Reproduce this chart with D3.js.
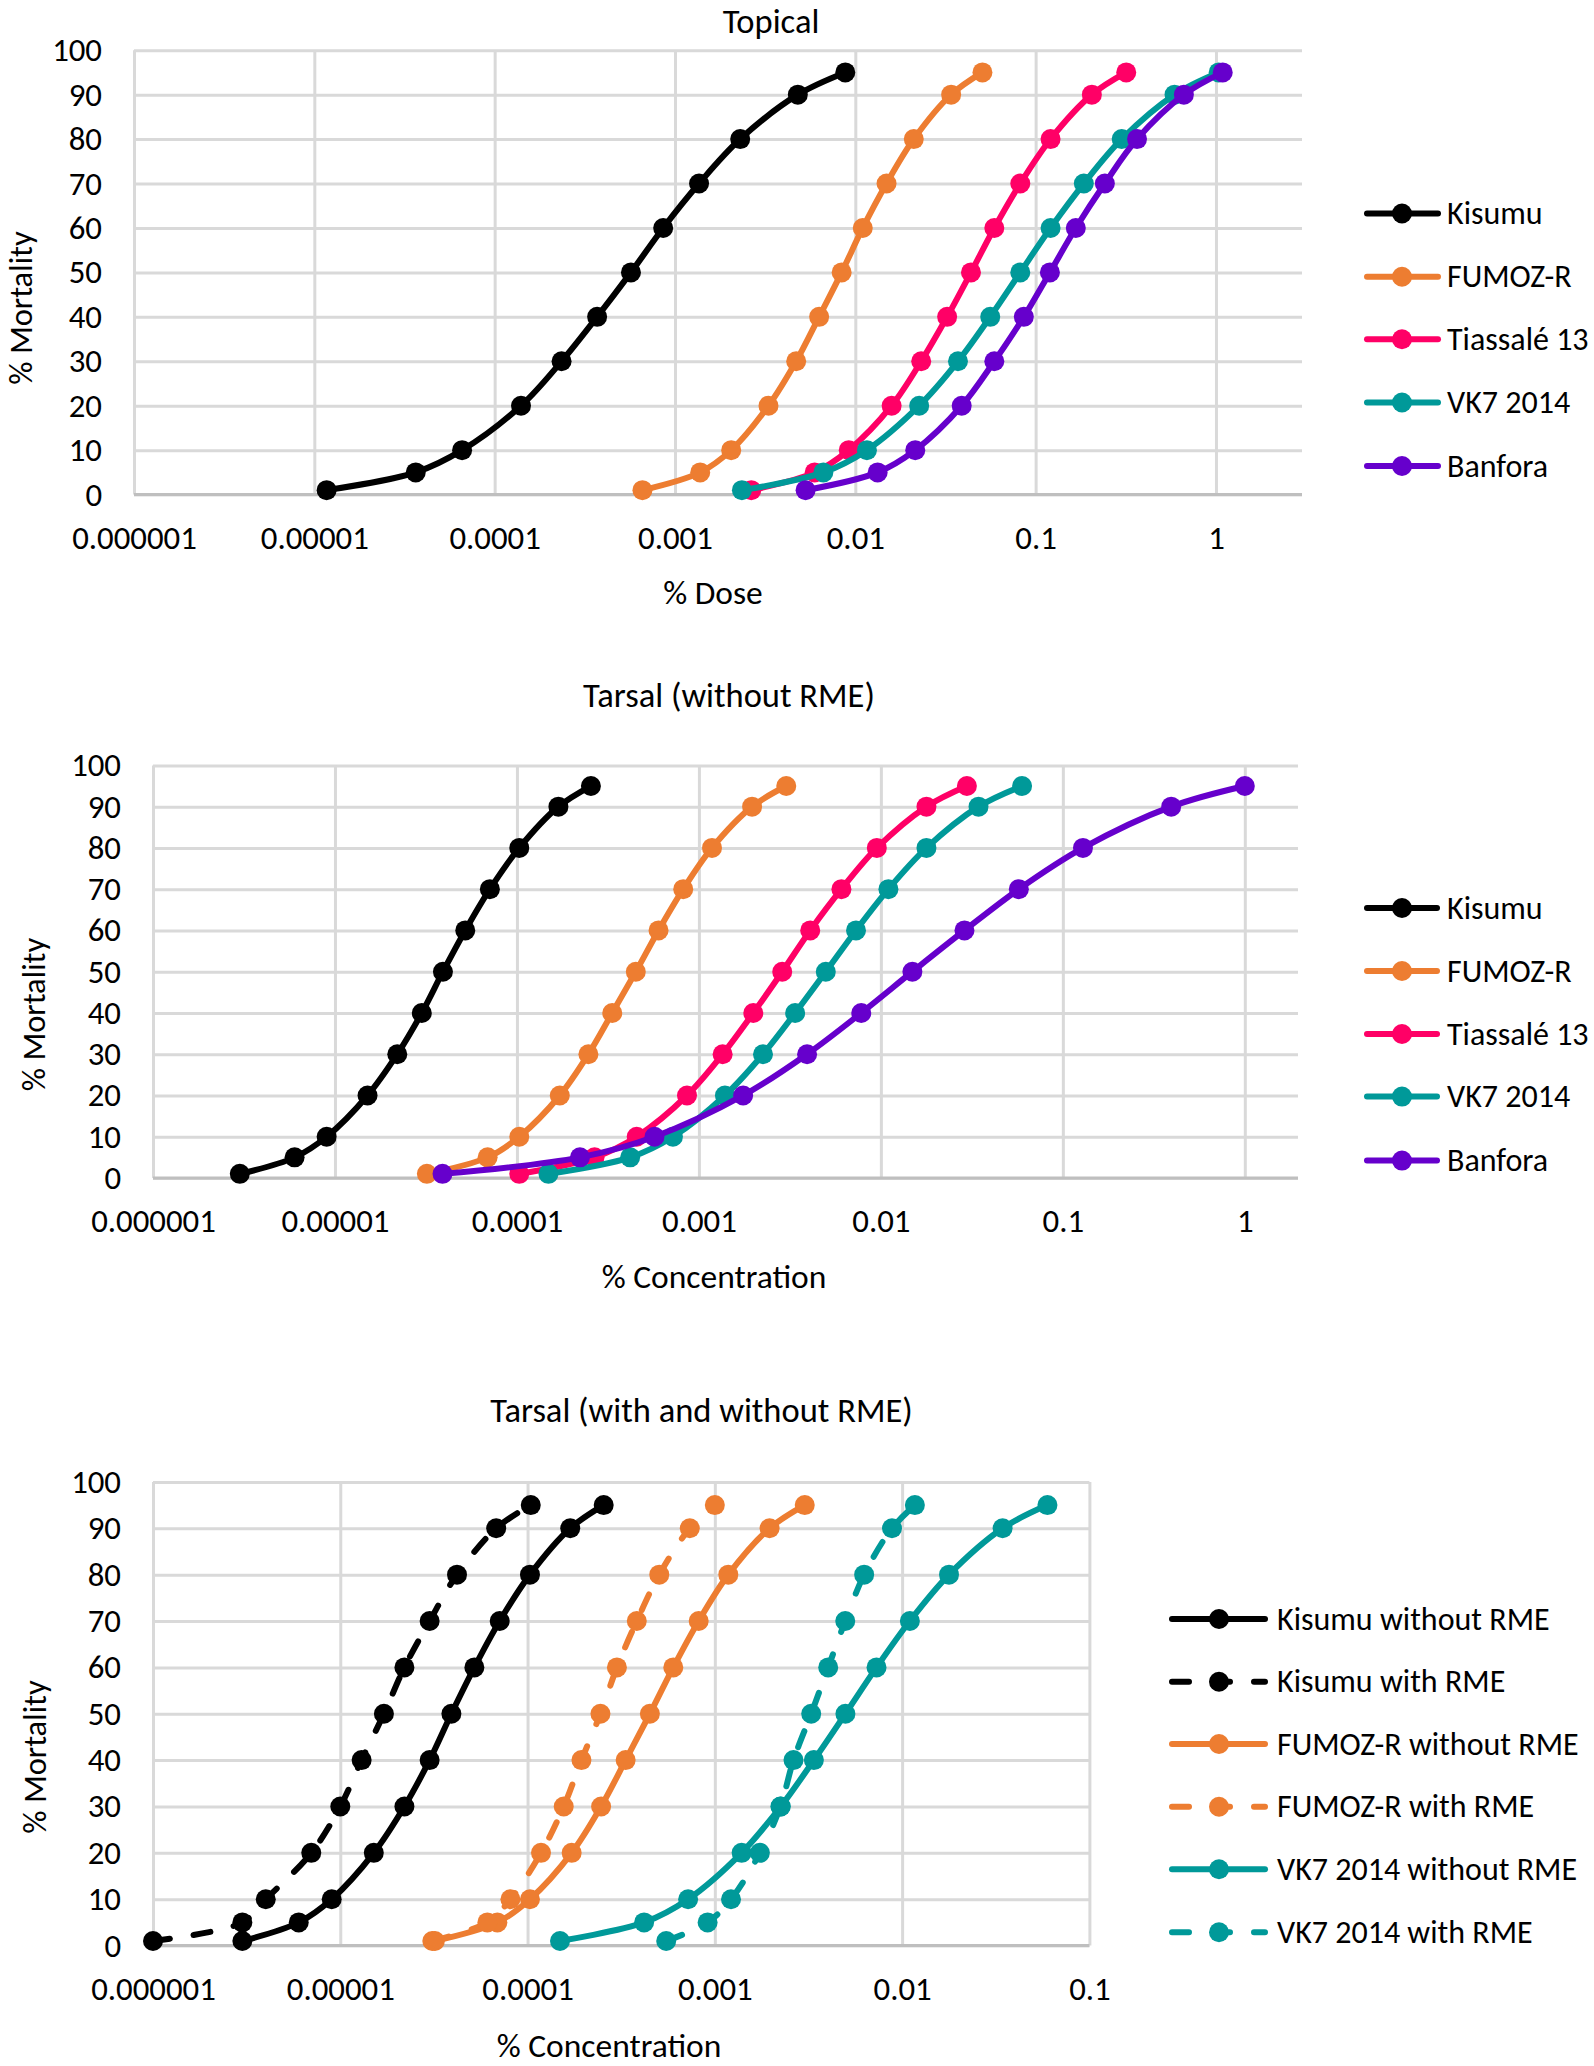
<!DOCTYPE html>
<html>
<head>
<meta charset="utf-8">
<script src="https://cdn.jsdelivr.net/npm/d3@7"></script>
<style>
  body { margin: 0; background: #ffffff; }
  svg { display: block; }
  text { font-family: Carlito, Calibri, Lato, sans-serif; fill: #000; }
</style>
</head>
<body>
<svg id="chart" width="1594" height="2066"></svg>
<script>
// ---------------- DATA ----------------
const mortality = [1, 5, 10, 20, 30, 40, 50, 60, 70, 80, 90, 95];
const yTickValues = [0, 10, 20, 30, 40, 50, 60, 70, 80, 90, 100];
const xTickValues = [0.000001, 0.00001, 0.0001, 0.001, 0.01, 0.1, 1];
const xTickLabels = ["0.000001", "0.00001", "0.0001", "0.001", "0.01", "0.1", "1"];

// Topical (% dose)
const kisumuTopical   = [1.17e-5, 3.65e-5, 6.6e-5, 1.4e-4, 2.35e-4, 3.7e-4, 5.7e-4, 8.6e-4, 1.36e-3, 2.3e-3, 4.8e-3, 8.8e-3];
const fumozTopical    = [6.6e-4, 1.38e-3, 2.05e-3, 3.3e-3, 4.7e-3, 6.3e-3, 8.4e-3, 0.011, 0.0149, 0.0211, 0.034, 0.0507];
const tiassaleTopical = [2.65e-3, 5.95e-3, 9.2e-3, 0.0159, 0.0232, 0.0323, 0.0438, 0.059, 0.0822, 0.121, 0.205, 0.318];
const vk7Topical      = [2.35e-3, 6.65e-3, 0.0116, 0.0226, 0.0371, 0.056, 0.0822, 0.121, 0.185, 0.30, 0.589, 1.035];
const banforaTopical  = [5.3e-3, 0.0133, 0.0215, 0.0389, 0.059, 0.086, 0.12, 0.167, 0.242, 0.365, 0.664, 1.09];

// Tarsal without RME (% concentration)
const kisumuTarsal   = [3.0e-6, 6.0e-6, 9.0e-6, 1.51e-5, 2.2e-5, 3.0e-5, 3.92e-5, 5.2e-5, 7.1e-5, 1.03e-4, 1.69e-4, 2.55e-4];
const fumozTarsal    = [3.2e-5, 6.9e-5, 1.03e-4, 1.72e-4, 2.47e-4, 3.34e-4, 4.5e-4, 6.0e-4, 8.2e-4, 1.18e-3, 1.96e-3, 3.02e-3];
const tiassaleTarsal = [1.03e-4, 2.67e-4, 4.55e-4, 8.6e-4, 1.35e-3, 1.99e-3, 2.87e-3, 4.09e-3, 6.07e-3, 9.5e-3, 0.0178, 0.0297];
const vk7Tarsal      = [1.49e-4, 4.19e-4, 7.2e-4, 1.39e-3, 2.25e-3, 3.38e-3, 4.98e-3, 7.3e-3, 0.011, 0.0178, 0.0344, 0.0597];
const banforaTarsal  = [3.9e-5, 2.22e-4, 5.7e-4, 1.75e-3, 3.93e-3, 7.8e-3, 0.0149, 0.0288, 0.0573, 0.129, 0.394, 1.0];

// Tarsal with RME (% concentration)
const kisumuRME = [1.0e-6, 3.0e-6, 4.0e-6, 7.0e-6, 1.0e-5, 1.3e-5, 1.71e-5, 2.2e-5, 3.0e-5, 4.2e-5, 6.8e-5, 1.04e-4];
const fumozRME  = [3.1e-5, 6.1e-5, 8.1e-5, 1.18e-4, 1.56e-4, 1.94e-4, 2.45e-4, 3.0e-4, 3.83e-4, 5.05e-4, 7.35e-4, 1.0e-3];
const vk7RME    = [5.5e-4, 9.15e-4, 1.22e-3, 1.74e-3, 2.24e-3, 2.63e-3, 3.27e-3, 4.03e-3, 4.97e-3, 6.27e-3, 8.83e-3, 0.0117];

const seriesNames1 = ["Kisumu", "FUMOZ-R", "Tiassalé 13", "VK7 2014", "Banfora"];
const seriesNames3 = ["Kisumu without RME", "Kisumu with RME", "FUMOZ-R without RME", "FUMOZ-R with RME", "VK7 2014 without RME", "VK7 2014 with RME"];

// ---------------- STYLE / LAYOUT ----------------
const C = { black: "#000000", orange: "#ED7D31", pink: "#FF0066", teal: "#009999", purple: "#6600CC" };
const FS_TICK = 32.8, FS_LEG = 32, FS_XT = 33.5, FS_YT = 32.5, FS_TITLE = 34.5;
const DASH = "17,24";

const panels = [
  {
    title: "Topical", titleX: 771, titleY: 33,
    xTitle: "% Dose", xTitleX: 713, xTitleY: 604,
    yTitleX: 31.5, yTitleY: 308,
    left: 134, right: 1302, top: 50.2, bottom: 494.6, xMax: 3.0,
    tickBaseline: 549.5,
    legend: { x1: 1364, x2: 1441, mx: 1402, tx: 1447, ys: [213.5, 276.7, 339.3, 402.5, 466] },
    series: [
      { name: seriesNames1[0], color: C.black,  xs: kisumuTopical },
      { name: seriesNames1[1], color: C.orange, xs: fumozTopical },
      { name: seriesNames1[2], color: C.pink,   xs: tiassaleTopical },
      { name: seriesNames1[3], color: C.teal,   xs: vk7Topical },
      { name: seriesNames1[4], color: C.purple, xs: banforaTopical }
    ]
  },
  {
    title: "Tarsal (without RME)", titleX: 729, titleY: 706.5,
    xTitle: "% Concentration", xTitleX: 714, xTitleY: 1288,
    yTitleX: 45, yTitleY: 1014.5,
    left: 153, right: 1298, top: 765.4, bottom: 1178, xMax: 1.96,
    tickBaseline: 1232,
    legend: { x1: 1364, x2: 1440, mx: 1402, tx: 1447, ys: [908, 971, 1034, 1096.6, 1160.6] },
    series: [
      { name: seriesNames1[0], color: C.black,  xs: kisumuTarsal },
      { name: seriesNames1[1], color: C.orange, xs: fumozTarsal },
      { name: seriesNames1[2], color: C.pink,   xs: tiassaleTarsal },
      { name: seriesNames1[3], color: C.teal,   xs: vk7Tarsal },
      { name: seriesNames1[4], color: C.purple, xs: banforaTarsal }
    ]
  },
  {
    title: "Tarsal (with and without RME)", titleX: 701.5, titleY: 1422.4,
    xTitle: "% Concentration", xTitleX: 609, xTitleY: 2057,
    yTitleX: 45.5, yTitleY: 1757,
    left: 153, right: 1089.4, top: 1481.9, bottom: 1945.6, xMax: 0.1,
    tickBaseline: 2000,
    legend: { x1: 1169, x2: 1268, mx: 1219, tx: 1277, ys: [1619, 1681.7, 1744, 1806.7, 1869.3, 1932.3] },
    series: [
      { name: seriesNames3[0], color: C.black,  xs: kisumuTarsal },
      { name: seriesNames3[1], color: C.black,  xs: kisumuRME, dashed: true },
      { name: seriesNames3[2], color: C.orange, xs: fumozTarsal },
      { name: seriesNames3[3], color: C.orange, xs: fumozRME, dashed: true },
      { name: seriesNames3[4], color: C.teal,   xs: vk7Tarsal },
      { name: seriesNames3[5], color: C.teal,   xs: vk7RME, dashed: true }
    ]
  }
];

// ---------------- DRAW ----------------
const svg = d3.select("#chart");
svg.append("rect").attr("width", 1594).attr("height", 2066).attr("fill", "#fff");
const FONT = "Carlito, Calibri, Lato, sans-serif";

panels.forEach(p => {
  const g = svg.append("g");
  const x = d3.scaleLog().domain([1e-6, p.xMax]).range([p.left, p.right]);
  const y = d3.scaleLinear().domain([0, 100]).range([p.bottom, p.top]);
  const ticksX = xTickValues.filter(v => v <= p.xMax * 1.0001);

  // horizontal grid + y labels
  const yAxis = g.append("g").attr("transform", `translate(${p.left},0)`)
    .call(d3.axisLeft(y).tickValues(yTickValues).tickFormat(d3.format("d"))
      .tickSize(-(p.right - p.left)).tickPadding(32));
  yAxis.attr("font-family", FONT);
  yAxis.select(".domain").remove();
  yAxis.selectAll(".tick line").attr("stroke", "#D9D9D9").attr("stroke-width", 3);
  yAxis.selectAll(".tick text").attr("font-size", FS_TICK).attr("dy", "0.32em").attr("fill", "#000");

  // vertical grid + x labels
  const xAxis = g.append("g").attr("transform", `translate(0,${p.bottom})`)
    .call(d3.axisBottom(x).tickValues(ticksX).tickFormat(d => xTickLabels[xTickValues.indexOf(d)])
      .tickSize(-(p.bottom - p.top)));
  xAxis.attr("font-family", FONT);
  xAxis.select(".domain").remove();
  xAxis.selectAll(".tick line").attr("stroke", "#D9D9D9").attr("stroke-width", 3);
  xAxis.selectAll(".tick text").attr("font-size", FS_TICK)
    .attr("y", p.tickBaseline - p.bottom).attr("dy", 0).attr("fill", "#000");

  // bottom axis line
  g.append("line").attr("x1", p.left).attr("x2", p.right)
    .attr("y1", y(0)).attr("y2", y(0))
    .attr("stroke", "#BFBFBF").attr("stroke-width", 3);

  // titles
  g.append("text").attr("x", p.titleX).attr("y", p.titleY).attr("text-anchor", "middle")
    .attr("font-size", FS_TITLE).text(p.title);
  g.append("text").attr("x", p.xTitleX).attr("y", p.xTitleY).attr("text-anchor", "middle")
    .attr("font-size", FS_XT).text(p.xTitle);
  g.append("text").attr("transform", `translate(${p.yTitleX},${p.yTitleY}) rotate(-90)`)
    .attr("text-anchor", "middle").attr("font-size", FS_YT).text("% Mortality");

  // series
  const line = d3.line().x(d => x(d[0])).y(d => y(d[1])).curve(d3.curveCatmullRom.alpha(0.5));
  p.series.forEach(s => {
    const pts = s.xs.map((v, i) => [v, mortality[i]]);
    const sg = g.append("g");
    sg.append("path").attr("d", line(pts)).attr("fill", "none")
      .attr("stroke", s.color).attr("stroke-width", 6)
      .attr("stroke-linecap", "round").attr("stroke-linejoin", "round")
      .attr("stroke-dasharray", s.dashed ? DASH : null);
    sg.selectAll("circle").data(pts).join("circle")
      .attr("cx", d => x(d[0])).attr("cy", d => y(d[1])).attr("r", 10)
      .attr("fill", s.color);
  });

  // legend
  const L = p.legend;
  p.series.forEach((s, i) => {
    const ly = L.ys[i];
    const lg = g.append("g");
    lg.append("line").attr("x1", L.x1 + 3).attr("x2", L.x2 - 3).attr("y1", ly).attr("y2", ly)
      .attr("stroke", s.color).attr("stroke-width", 6).attr("stroke-linecap", "round")
      .attr("stroke-dasharray", s.dashed ? DASH : null);
    lg.append("circle").attr("cx", L.mx).attr("cy", ly).attr("r", 10).attr("fill", s.color);
    lg.append("text").attr("x", L.tx).attr("y", ly).attr("dy", "0.33em")
      .attr("font-size", FS_LEG).text(s.name);
  });
});
</script>
</body>
</html>
